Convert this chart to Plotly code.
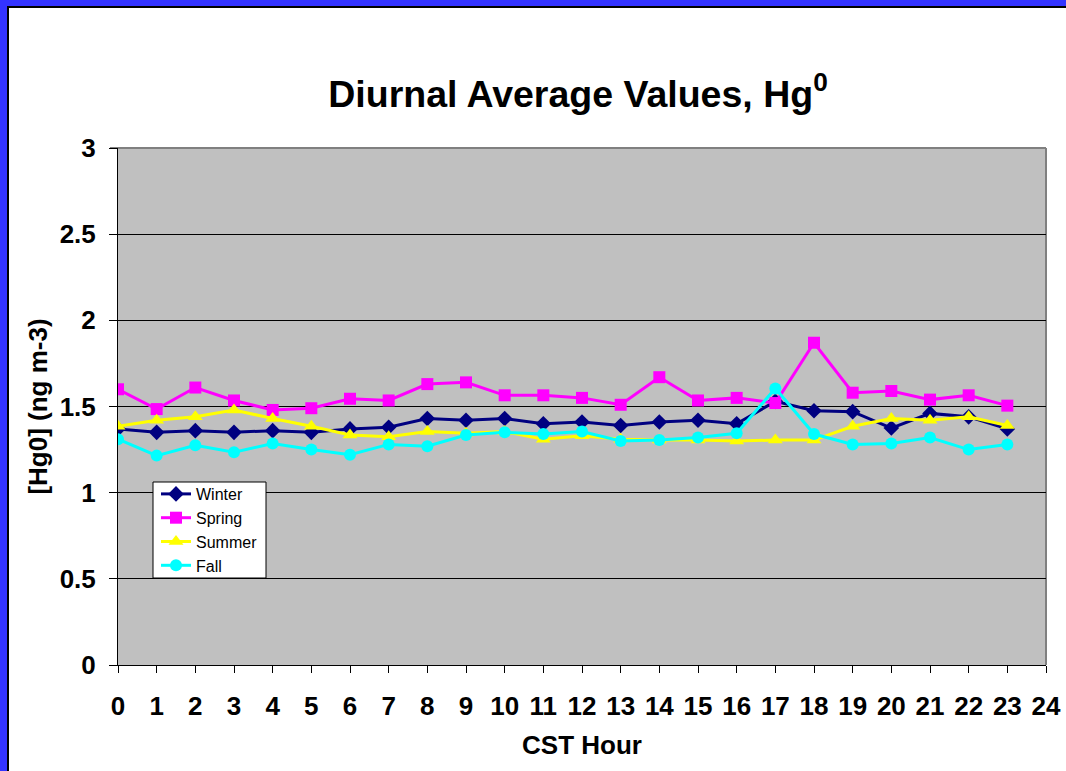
import plotly.graph_objects as go

hours = list(range(24))
winter = [1.37, 1.35, 1.36, 1.35, 1.36, 1.35, 1.37, 1.38, 1.43, 1.42, 1.43, 1.40,
          1.41, 1.39, 1.41, 1.42, 1.40, 1.53, 1.475, 1.47, 1.375, 1.46, 1.44, 1.37]
spring = [1.60, 1.485, 1.61, 1.535, 1.48, 1.49, 1.545, 1.535, 1.63, 1.64, 1.565, 1.565,
          1.55, 1.51, 1.67, 1.535, 1.55, 1.52, 1.87, 1.58, 1.59, 1.54, 1.565, 1.505]
summer = [1.385, 1.42, 1.44, 1.48, 1.43, 1.385, 1.335, 1.325, 1.355, 1.345, 1.355, 1.31,
          1.33, 1.31, 1.305, 1.305, 1.30, 1.305, 1.305, 1.385, 1.43, 1.42, 1.44, 1.39]
fall = [1.31, 1.215, 1.275, 1.235, 1.285, 1.25, 1.22, 1.28, 1.27, 1.335, 1.35, 1.34,
        1.355, 1.30, 1.305, 1.32, 1.345, 1.605, 1.34, 1.28, 1.285, 1.32, 1.25, 1.28]
x_ticks = list(range(25))
y_ticks = [0, 0.5, 1, 1.5, 2, 2.5, 3]

FONT = "Liberation Sans, Arial, sans-serif"

series = [
    ("Winter", winter, "#000080", "diamond", 12),
    ("Spring", spring, "#FF00FF", "square", 12),
    ("Summer", summer, "#FFFF00", "triangle-up", 13),
    ("Fall", fall, "#00FFFF", "circle", 12),
]

fig = go.Figure()
for name, vals, color, sym, size in series:
    fig.add_trace(go.Scatter(
        x=hours, y=vals, name=name, mode="lines+markers",
        line=dict(color=color, width=3),
        marker=dict(symbol=sym, size=size, color=color),
    ))

W, H = 1066, 771
L, R, T, B = 118, 1046, 148, 665
pw, ph = R - L, B - T

def px_x(p):
    return (p - L) / pw

def px_y(p):
    return (B - p) / ph

shapes = [
    # blue slide frame (top and left)
    dict(type="rect", xref="paper", yref="paper", x0=px_x(0), x1=px_x(W), y0=px_y(6), y1=px_y(0),
         fillcolor="#3333FF", line=dict(width=0), layer="above"),
    dict(type="rect", xref="paper", yref="paper", x0=px_x(0), x1=px_x(7), y0=px_y(H), y1=px_y(0),
         fillcolor="#3333FF", line=dict(width=0), layer="above"),
    dict(type="line", xref="paper", yref="paper", x0=px_x(7), x1=px_x(W), y0=px_y(7), y1=px_y(7),
         line=dict(color="black", width=2), layer="above"),
    dict(type="line", xref="paper", yref="paper", x0=px_x(8), x1=px_x(8), y0=px_y(H), y1=px_y(7),
         line=dict(color="black", width=2), layer="above"),
    # plot-area border top/right
    dict(type="line", xref="paper", yref="paper", x0=px_x(110), x1=1, y0=1, y1=1,
         line=dict(color="#808080", width=2), layer="below"),
    dict(type="line", xref="paper", yref="paper", x0=1, x1=1, y0=0, y1=1,
         line=dict(color="#808080", width=2), layer="below"),
    # legend box
    dict(type="rect", xref="paper", yref="paper", x0=px_x(153), x1=px_x(266), y0=px_y(578), y1=px_y(482),
         fillcolor="white", line=dict(color="black", width=1), layer="above"),
]

fig.update_layout(
    width=W, height=H,
    margin=dict(l=L, r=W - R, t=T, b=H - B, pad=0),
    paper_bgcolor="white",
    plot_bgcolor="#C0C0C0",
    font=dict(family=FONT, color="black"),
    title=dict(text="<b>Diurnal Average Values, Hg<sup>0</sup></b>",
               font=dict(size=37.5, family=FONT, color="black"),
               x=578 / W, xanchor="center", y=1 - 94 / H, yanchor="middle"),
    xaxis=dict(range=[0, 24], tickmode="array", tickvals=x_ticks,
               ticktext=[f"<b>{t}</b>" for t in x_ticks],
               tickfont=dict(size=26, family=FONT, color="black"),
               ticks="outside", ticklen=7, tickcolor="black", tickwidth=1,
               ticklabelstandoff=11, automargin=False,
               showline=True, linecolor="black", linewidth=1,
               showgrid=False, zeroline=False,
               title=dict(text="<b>CST Hour</b>", font=dict(size=26, family=FONT, color="black"),
                          standoff=15)),
    yaxis=dict(range=[0, 3], tickmode="array", tickvals=y_ticks,
               ticktext=[f"<b>{t:g}</b>" for t in y_ticks],
               tickfont=dict(size=26, family=FONT, color="black"),
               ticks="outside", ticklen=8, tickcolor="black", tickwidth=1,
               ticklabelstandoff=8, automargin=False,
               showline=True, linecolor="black", linewidth=1,
               showgrid=True, gridcolor="black", gridwidth=1, zeroline=False,
               title=dict(text="<b>[Hg0] (ng m-3)</b>", font=dict(size=26, family=FONT, color="black"),
                          standoff=4)),
    legend=dict(x=px_x(156), y=px_y(477), xanchor="left", yanchor="top",
                bgcolor="rgba(0,0,0,0)", borderwidth=0,
                font=dict(size=16, family=FONT, color="black"),
                tracegroupgap=0, itemwidth=30),
    shapes=shapes,
    showlegend=True,
)

fig.write_html("out.html", config={"displayModeBar": False},
               post_script="document.body.style.margin='0';document.body.style.overflow='hidden';")
